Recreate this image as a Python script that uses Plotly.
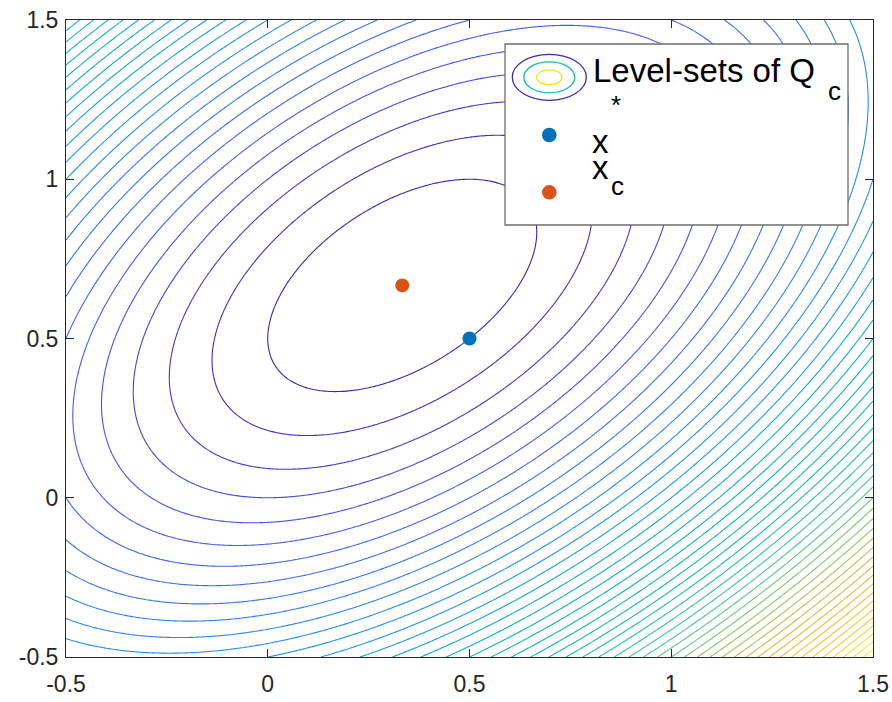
import numpy as np
import plotly.graph_objects as go

# ---------------- data ----------------
# Quadratic Q_c(x) = 0.5 * x^T A x - b^T x
A_MATRIX = [[2.0, -1.0], [-1.0, 2.0]]
B_VECTOR = [0.0, 1.0]
X_STAR = [0.5, 0.5]
X_C = [1.0 / 3.0, 2.0 / 3.0]

X_RANGE = [-0.5, 1.5]
Y_RANGE = [-0.5, 1.5]
GRID_N = 301

LEVEL_START = -0.25
LEVEL_END = 3.75
LEVEL_STEP = 1.0 / 12.0
COLOR_MIN = -1.0 / 3.0
COLOR_MAX = 3.75

TICK_VALS = [-0.5, 0, 0.5, 1, 1.5]
TICK_TEXT = ["-0.5", "0", "0.5", "1", "1.5"]

LEGEND_LABELS = ["Level-sets of Q", "x", "x"]
LEGEND_SCRIPTS = ["c", "*", "c"]

# ---------------- grid ----------------
xs = np.linspace(X_RANGE[0], X_RANGE[1], GRID_N)
ys = np.linspace(Y_RANGE[0], Y_RANGE[1], GRID_N)
XX, YY = np.meshgrid(xs, ys)
A = np.array(A_MATRIX)
b = np.array(B_VECTOR)
Z = 0.5 * (A[0, 0] * XX**2 + 2 * A[0, 1] * XX * YY + A[1, 1] * YY**2) - (b[0] * XX + b[1] * YY)

parula = [
    [0.0, "rgb(62,38,168)"],
    [0.1, "rgb(70,90,245)"],
    [0.2, "rgb(45,132,240)"],
    [0.3, "rgb(22,158,230)"],
    [0.4, "rgb(8,174,214)"],
    [0.5, "rgb(20,186,196)"],
    [0.6, "rgb(85,198,135)"],
    [0.7, "rgb(165,196,82)"],
    [0.8, "rgb(235,184,56)"],
    [0.9, "rgb(252,206,45)"],
    [1.0, "rgb(249,251,20)"],
]

BLUE = "#0072BD"
ORANGE = "#D95319"
AX = "#262626"
FONT = "Liberation Sans, Arial, Helvetica, sans-serif"

fig = go.Figure()
fig.add_trace(go.Contour(
    x=xs, y=ys, z=Z,
    contours=dict(coloring="lines", start=LEVEL_START, end=LEVEL_END, size=LEVEL_STEP),
    line=dict(width=1.1),
    colorscale=parula, zauto=False, zmin=COLOR_MIN, zmax=COLOR_MAX,
    showscale=False, hoverinfo="skip",
))
fig.add_trace(go.Scatter(x=[X_STAR[0]], y=[X_STAR[1]], mode="markers",
                         marker=dict(color=BLUE, size=14), showlegend=False))
fig.add_trace(go.Scatter(x=[X_C[0]], y=[X_C[1]], mode="markers",
                         marker=dict(color=ORANGE, size=14), showlegend=False))

# ------------- hand-drawn legend (pixel layout -> paper coords) -------------
W, H = 892, 702
L, R, T, Bm = 66, 19, 20, 45
PW, PH = W - L - R, H - T - Bm


def px(xp):
    return (xp - L) / PW


def py(yp):
    return (H - Bm - yp) / PH


shapes = [dict(type="rect", xref="paper", yref="paper",
               x0=px(505), x1=px(848), y0=py(225), y1=py(44),
               line=dict(color="#6e6e6e", width=1.3), fillcolor="white", layer="above")]
cx, cy = 549.3, 77.3
for rx, ry, col in [(37, 23, "rgb(62,38,168)"), (25.5, 15.5, "rgb(25,185,185)"), (12.7, 7.5, "rgb(245,225,20)")]:
    shapes.append(dict(type="circle", xref="paper", yref="paper",
                       x0=px(cx - rx), x1=px(cx + rx), y0=py(cy + ry), y1=py(cy - ry),
                       line=dict(color=col, width=1.3), layer="above"))
for (dx, dy, col) in [(549.3, 135, BLUE), (549.3, 192.3, ORANGE)]:
    r = 7.3
    shapes.append(dict(type="circle", xref="paper", yref="paper",
                       x0=px(dx - r), x1=px(dx + r), y0=py(dy + r), y1=py(dy - r),
                       line=dict(width=0), fillcolor=col, layer="above"))

annotations = []


def add_text(text, xl, yc, size):
    annotations.append(dict(text=text, xref="paper", yref="paper", x=px(xl), y=py(yc),
                            xanchor="left", yanchor="middle", showarrow=False,
                            font=dict(family=FONT, size=size, color="black")))


add_text(LEGEND_LABELS[0], 591, 71, 33)
add_text(LEGEND_SCRIPTS[0], 826, 91, 26)
add_text(LEGEND_LABELS[1], 590, 141, 33)
add_text(LEGEND_SCRIPTS[1], 609, 105, 26)
add_text(LEGEND_LABELS[2], 590, 168, 33)
add_text(LEGEND_SCRIPTS[2], 609, 186, 26)

axis_common = dict(
    showgrid=False, zeroline=False, showline=True, linecolor=AX, linewidth=1,
    mirror="ticks", ticks="inside", ticklen=8, tickcolor=AX, tickwidth=1,
    tickfont=dict(family=FONT, size=23, color=AX),
    tickvals=TICK_VALS, ticktext=TICK_TEXT, automargin=False,
)
fig.update_layout(
    width=W, height=H,
    margin=dict(l=L, r=R, t=T, b=Bm, pad=0, autoexpand=False),
    paper_bgcolor="white", plot_bgcolor="white",
    showlegend=False,
    xaxis=dict(range=X_RANGE, ticklabelstandoff=6, **axis_common),
    yaxis=dict(range=Y_RANGE, ticklabelstandoff=2, **axis_common),
    shapes=shapes, annotations=annotations,
)
fig.write_html("out.html", config={"displayModeBar": False},
               post_script="document.body.style.margin='0px';document.body.style.overflow='hidden';")
